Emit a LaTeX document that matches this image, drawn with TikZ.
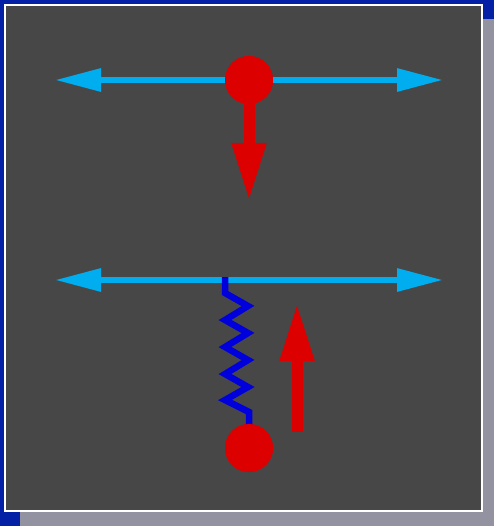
\documentclass[tikz,border=0pt]{standalone}
\usetikzlibrary{arrows.meta}
\definecolor{frameblue}{RGB}{4,32,164}
\definecolor{shadowgray}{RGB}{146,146,160}
\definecolor{panelgray}{RGB}{71,71,71}
\definecolor{railcyan}{RGB}{0,174,239}
\definecolor{massred}{RGB}{221,0,0}
\definecolor{springblue}{RGB}{0,0,221}
\tikzset{
  rail/.style={draw=railcyan, line width=6pt,
    {Triangle[length=46pt,width=22pt]}-{Triangle[length=46pt,width=22pt]}},
  mass/.style={circle, fill=massred, minimum size=48pt, inner sep=0pt},
  force/.style={draw=massred, line width=11pt,
    -{Triangle[length=58pt,width=32pt]}},
  spring/.style={draw=springblue, line width=6.5pt, miter limit=10}
}
\begin{document}
\begin{tikzpicture}[x=1pt,y=-1pt]
  \useasboundingbox (0,0) rectangle (494,526);
  % backdrop, drop shadow and panel
  \fill[frameblue] (0,0) rectangle (494,526);
  \fill[shadowgray] (20,19) rectangle (494,526);
  \filldraw[fill=panelgray, draw=white, line width=2.5pt] (5,5) rectangle (482,511);

  % upper rail with a free mass and its downward force
  \coordinate (r1l) at (55,80);
  \coordinate (r1r) at (443,80);
  \draw[rail] (r1l) -- (r1r);
  \coordinate (f1end) at (249,201);
  \node[mass] (m1) at (249,80) {};
  \draw[force] (m1.center) -- (f1end);
  \node[mass] at (m1) {};

  % lower rail with a hanging spring and mass
  \coordinate (r2l) at (55,280);
  \coordinate (r2r) at (443,280);
  \draw[rail] (r2l) -- (r2r);
  \coordinate (s0) at (225,277);
  \node[mass] (m2) at (249,448) {};
  \draw[spring] (s0) -- (225,293) -- (248,306) -- (225,320) -- (248,333)
    -- (225,347) -- (248,360) -- (225,374) -- (248,387) -- (225,400)
    -- (249,412) -- (m2.center);
  \node[mass] at (m2) {};

  % upward force beside the spring
  \coordinate (f2start) at (297,432);
  \coordinate (f2end) at (297,303);
  \draw[force] (f2start) -- (f2end);
\end{tikzpicture}
\end{document}
